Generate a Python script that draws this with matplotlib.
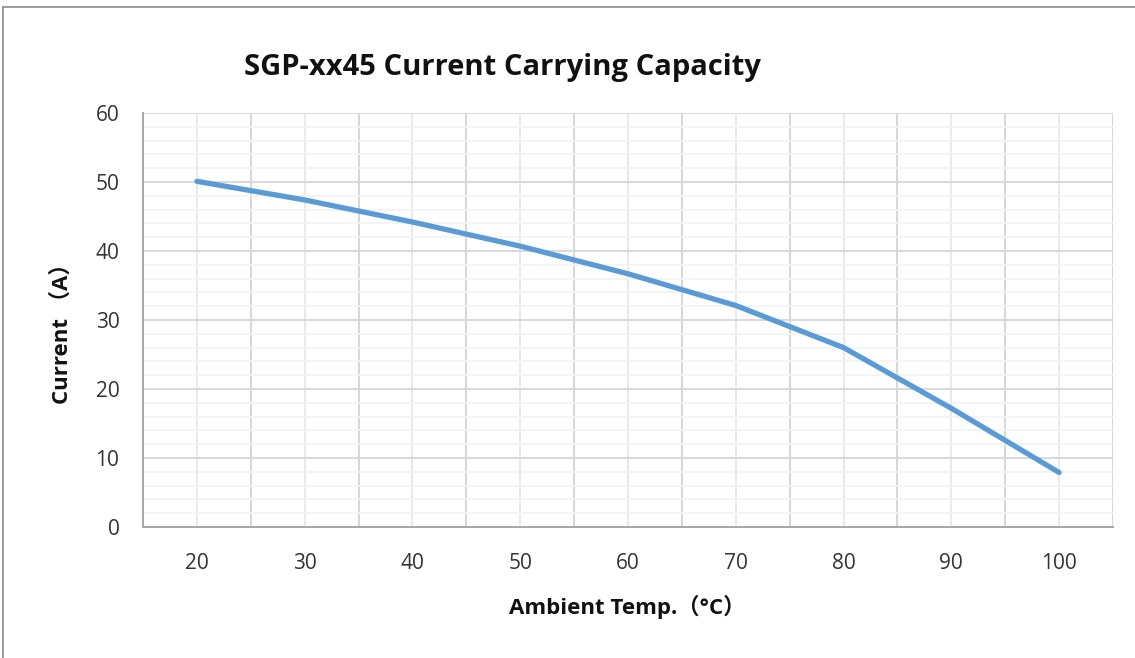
import matplotlib
matplotlib.use("Agg")
import matplotlib.pyplot as plt
from matplotlib.lines import Line2D
from matplotlib.ticker import MultipleLocator

plt.rcParams['font.family'] = ['Open Sans', 'Noto Sans CJK SC', 'DejaVu Sans']

temps = [20, 30, 40, 50, 60, 70, 80, 90, 100]
current = [50.1, 47.4, 44.2, 40.7, 36.7, 32.1, 26.0, 17.2, 7.9]
title = "SGP-xx45 Current Carrying Capacity"
xlabel = "Ambient Temp.（°C）"
ylabel = "Current （A）"

W, H = 1135, 658
fig = plt.figure(figsize=(W / 100, H / 100), dpi=100)
ax = fig.add_axes([143 / W, 1 - 527 / H, (1113 - 143) / W, (527 - 113) / H])

ax.plot(temps, current, color="#5B9BD5", lw=3.8, solid_capstyle="round", zorder=3)

ax.set_xlim(15, 105)
ax.set_ylim(0, 60)
ax.set_xticks(temps)
ax.set_xticks([15 + 10 * i for i in range(10)], minor=True)
ax.yaxis.set_major_locator(MultipleLocator(10))
ax.yaxis.set_minor_locator(MultipleLocator(2))

ax.grid(which="major", axis="y", color="#D9D9D9", lw=1.4)
ax.grid(which="minor", axis="y", color="#F2F2F2", lw=1.2)
ax.grid(which="major", axis="x", color="#E3E3E3", lw=1.1)
ax.grid(which="minor", axis="x", color="#D0D0D0", lw=1.2)
ax.set_axisbelow(True)

for s in ["top", "right"]:
    ax.spines[s].set_visible(False)
for s in ["left", "bottom"]:
    ax.spines[s].set_color("#A6A6A6")
    ax.spines[s].set_linewidth(1.4)

ax.tick_params(which="both", length=0)
ax.tick_params(axis="x", labelsize=15, colors="#333333", pad=19)
ax.tick_params(axis="y", labelsize=15, colors="#333333", pad=17)

fig.text(503 / W, 1 - 68 / H, title, ha="center", va="center",
         fontsize=21, fontweight="bold", color="#111111")
fig.text(627 / W, 1 - 607 / H, xlabel, ha="center", va="center",
         fontsize=16, fontweight="bold", color="#111111")
fig.text(62 / W, 1 - 328 / H, ylabel, ha="center", va="center", rotation=90,
         fontsize=16, fontweight="bold", color="#111111")

fig.add_artist(Line2D([3 / W, 1], [1 - 7 / H, 1 - 7 / H], transform=fig.transFigure,
                      color="#8C8C8C", lw=1.2))
fig.add_artist(Line2D([3 / W, 3 / W], [0, 1 - 7 / H], transform=fig.transFigure,
                      color="#8C8C8C", lw=1.2))

fig.savefig("out.png", dpi=100)
